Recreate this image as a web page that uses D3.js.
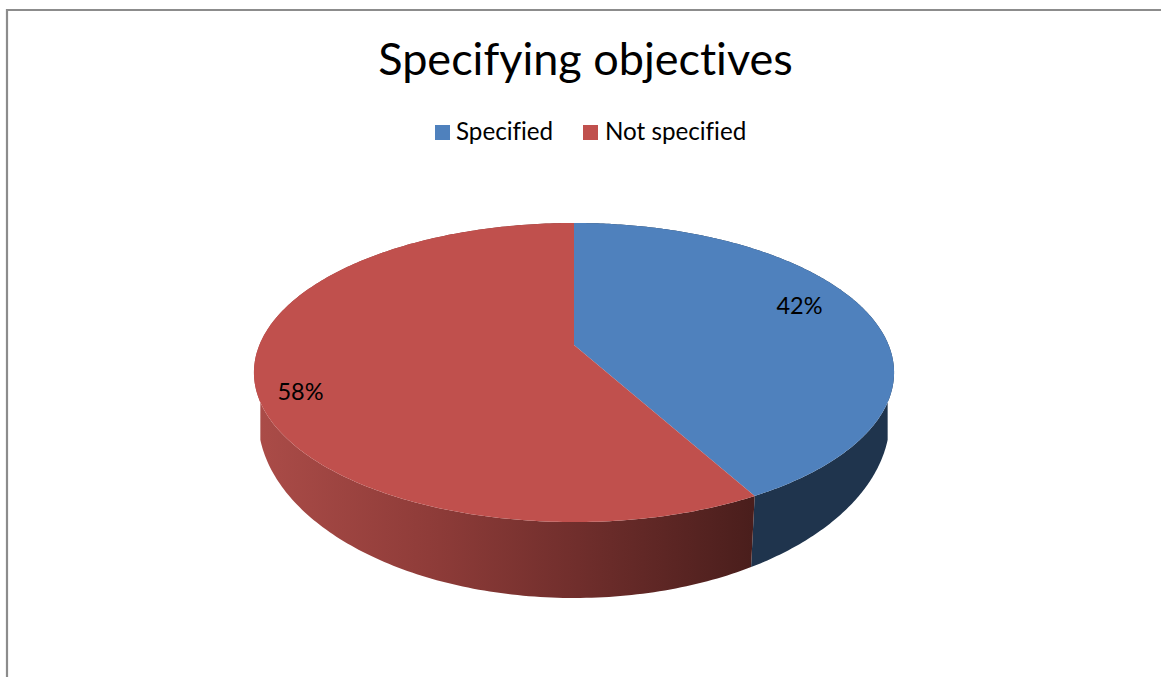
<!DOCTYPE html>
<html><head><meta charset="utf-8">
<script src="https://cdn.jsdelivr.net/npm/d3@7/dist/d3.min.js"></script>
<style>html,body{margin:0;padding:0;background:#fff}svg{display:block}text{font-family:Lato,"Open Sans",sans-serif;fill:#000;font-variant-ligatures:none}</style>
</head><body><svg id="c" width="1161" height="677"></svg>
<script>
const title = "Specifying objectives";
const categories = ["Specified", "Not specified"];
const values = [42, 58];
const labels = ["42%", "58%"];
const colors = ["#4F81BD", "#C0504D"];

const svg = d3.select("#c");
// chart frame
svg.append("path").attr("d","M7 677V10H1161").attr("fill","none").attr("stroke","#8c8c8c").attr("stroke-width",2.2);

// perspective projection of the unit disc
const K=-0.184, A=314.6, B=81, C=345, CX=574;
const topFace = ([u,v]) => { const w=1+K*v; return [CX+A*u/w,(B*v+C)/w]; };
// lower rim of the wall
const S=0.98, RX=316, YC=418, H=180;
const bottomFace = p => {
  const dx=(topFace(p)[0]-CX)*S, c=Math.sqrt(Math.max(0,1-(dx/RX)*(dx/RX)));
  return [CX+dx, YC+(p[1]>=-K?1:-1)*H*c];
};
const pie = d3.pie().sort(null).value(d=>d);
const arcs = pie(values);
const pts = (a0,a1) => d3.range(0,241).map(i=>{const a=a0+(a1-a0)*i/240; return [Math.sin(a),-Math.cos(a)];});
const line = d3.line();

const defs = svg.append("defs");
const g = defs.append("linearGradient").attr("id","redSide").attr("gradientUnits","userSpaceOnUse")
  .attr("x1",255).attr("x2",752).attr("y1",0).attr("y2",0);
[[0,"#AB4C48"],[0.35,"#8F3C39"],[0.65,"#702E2C"],[1,"#4A1E1C"]].forEach(s=>g.append("stop").attr("offset",s[0]).attr("stop-color",s[1]));

const sideFill = ["#1F344D","url(#redSide)"];
// sides
arcs.forEach((d,i)=>{
  const p=pts(d.startAngle,d.endAngle);
  svg.append("path").attr("d",line(p.map(topFace).concat(p.map(bottomFace).reverse()))+"Z").attr("fill",sideFill[i]);
});
// top faces
arcs.forEach((d,i)=>{
  const p=pts(d.startAngle,d.endAngle).map(topFace);
  svg.append("path").attr("d",line([topFace([0,0])].concat(p))+"Z").attr("fill",colors[i]);
});

svg.append("text").attr("x",585.5).attr("y",75).attr("text-anchor","middle").attr("font-size",45).text(title);

const legX=[435,583], legT=[456,605];
categories.forEach((c,i)=>{
  svg.append("rect").attr("x",legX[i]).attr("y",125).attr("width",15).attr("height",15).attr("fill",colors[i]);
  svg.append("text").attr("x",legT[i]).attr("y",140).attr("font-size",24.2).text(c);
});
const labX=[799.5,300.5], labY=[314,400];
labels.forEach((t,i)=>svg.append("text").attr("x",labX[i]).attr("y",labY[i]).attr("text-anchor","middle").attr("font-size",23.5).text(t));
</script></body></html>
